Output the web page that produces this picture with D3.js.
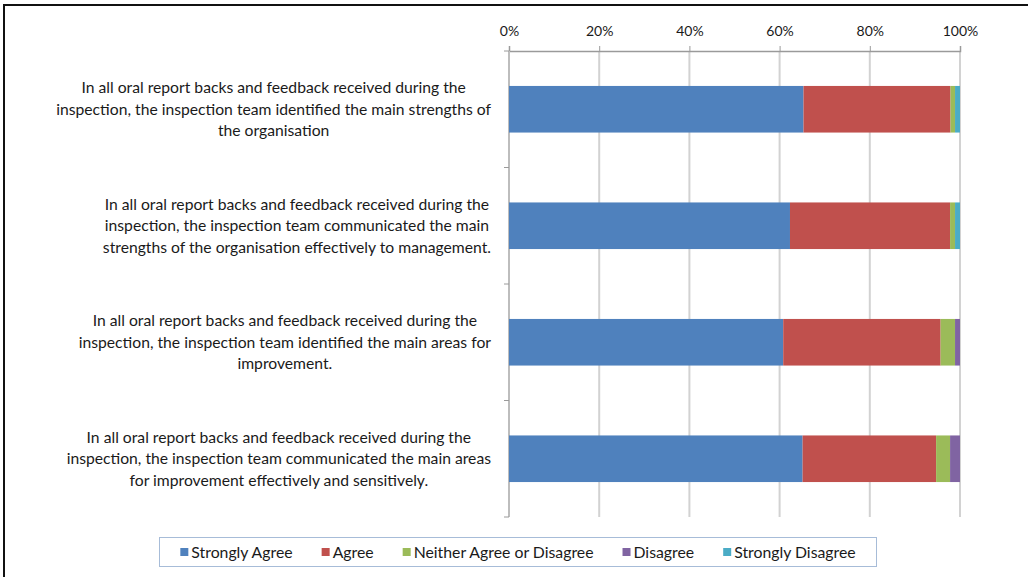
<!DOCTYPE html>
<html>
<head>
<meta charset="utf-8">
<script src="https://cdn.jsdelivr.net/npm/d3@7"></script>
<style>
  body { margin: 0; background: #fff; }
  svg { display: block; }
  text { font-family: Lato, "Open Sans", sans-serif; fill: #1a1a1a; }
</style>
</head>
<body>
<svg id="chart"></svg>
<script>
var width = 1028,
    height = 577;

// survey statements, as wrapped in the original chart
var questions = [
  ["In all oral report backs and feedback received during the",
   "inspection, the inspection team identified the main strengths of",
   "the organisation"],
  ["In all oral report backs and feedback received during the",
   "inspection, the inspection team communicated the main",
   "strengths of the organisation effectively to management."],
  ["In all oral report backs and feedback received during the",
   "inspection, the inspection team identified the main areas for",
   "improvement."],
  ["In all oral report backs and feedback received during the",
   "inspection, the inspection team communicated the main areas",
   "for improvement effectively and sensitively."]
];

var responses = ["Strongly Agree", "Agree", "Neither Agree or Disagree", "Disagree", "Strongly Disagree"];
var colors = ["#4f81bd", "#c0504d", "#9bbb59", "#8064a2", "#4bacc6"];

// percentages per statement
var stronglyAgree    = [65.3, 62.3, 60.8, 65.1];
var agree            = [32.6, 35.5, 34.9, 29.6];
var neither          = [1.0, 1.1, 3.2, 3.1];
var disagree         = [0.0, 0.0, 1.1, 2.2];
var stronglyDisagree = [1.1, 1.1, 0.0, 0.0];

var tickValues = [0, 20, 40, 60, 80, 100];
var tickLabels = ["0%", "20%", "40%", "60%", "80%", "100%"];

var series = [stronglyAgree, agree, neither, disagree, stronglyDisagree];

var rows = questions.map(function(q, i) {
  var r = {index: i};
  responses.forEach(function(name, j) { r[name] = series[j][i]; });
  return r;
});

var stacked = d3.stack().keys(responses)(rows);

var x = d3.scaleLinear().domain([0, 100]).range([509, 960]);
var y = d3.scaleBand()
    .domain(d3.range(questions.length))
    .range([51, 517])
    .paddingInner(0.6)
    .paddingOuter(0.3);

var svg = d3.select("#chart").attr("width", width).attr("height", height);

// outer frame (only left and top edges are in view)
svg.append("path")
    .attr("d", "M4," + (height + 2) + "V5H" + (width + 2))
    .attr("fill", "none")
    .attr("stroke", "#111")
    .attr("stroke-width", 2);

// gridlines
svg.append("g").attr("class", "grid")
  .selectAll("line")
  .data(tickValues.slice(1))
  .enter().append("line")
    .attr("x1", function(d) { return x(d); })
    .attr("x2", function(d) { return x(d); })
    .attr("y1", y.range()[0])
    .attr("y2", y.range()[1])
    .attr("stroke", "#d2d2d2")
    .attr("stroke-width", 2);

// top value axis
var xAxis = d3.axisTop(x)
    .tickValues(tickValues)
    .tickFormat(function(d, i) { return tickLabels[i]; })
    .tickSize(5)
    .tickPadding(10);

var gx = svg.append("g")
    .attr("transform", "translate(0," + y.range()[0] + ")")
    .call(xAxis);
gx.select(".domain").attr("stroke", "#9a9a9a").attr("stroke-width", 1.5);
gx.selectAll(".tick line").attr("stroke", "#9a9a9a");
gx.selectAll(".tick text")
    .style("font-family", "Lato, sans-serif")
    .style("font-size", "14px")
    .attr("fill", "#1a1a1a");

// category axis line with boundary ticks
var bounds = d3.range(questions.length + 1).map(function(i) {
  return y.range()[0] + i * y.step();
});
var gy = svg.append("g");
gy.append("line")
    .attr("x1", x(0)).attr("x2", x(0))
    .attr("y1", y.range()[0]).attr("y2", y.range()[1])
    .attr("stroke", "#bdbdbd").attr("stroke-width", 2);
gy.selectAll("line.tk")
  .data(bounds)
  .enter().append("line")
    .attr("class", "tk")
    .attr("x1", x(0) - 5).attr("x2", x(0))
    .attr("y1", function(d) { return d; })
    .attr("y2", function(d) { return d; })
    .attr("stroke", "#9a9a9a");

// stacked bars
svg.append("g").selectAll("g")
  .data(stacked)
  .enter().append("g")
    .attr("fill", function(d, i) { return colors[i]; })
  .selectAll("rect")
  .data(function(d) { return d; })
  .enter().append("rect")
    .attr("x", function(d) { return x(d[0]); })
    .attr("width", function(d) { return x(d[1]) - x(d[0]); })
    .attr("y", function(d) { return y(d.data.index); })
    .attr("height", y.bandwidth());

// category labels: block right-aligned near the axis, lines centred in it
var lineHeight = 21.5,
    labelRight = x(0) - 18;

var labels = svg.append("g").selectAll("g")
  .data(questions)
  .enter().append("g");

labels.each(function(lines, i) {
  var g = d3.select(this);
  var cy = y(i) + y.bandwidth() / 2;
  var texts = g.selectAll("text")
    .data(lines)
    .enter().append("text")
      .attr("text-anchor", "middle")
      .style("font-size", "15.7px")
      .attr("dy", "0.35em")
      .attr("y", function(d, k) { return cy + (k - (lines.length - 1) / 2) * lineHeight; })
      .text(function(d) { return d; });
  var maxW = d3.max(texts.nodes(), function(n) { return n.getComputedTextLength(); });
  texts.attr("x", labelRight - maxW / 2);
});

// legend
var legend = svg.append("g");
legend.append("rect")
    .attr("x", 159.5).attr("y", 537.5)
    .attr("width", 717).attr("height", 29)
    .attr("fill", "#fff")
    .attr("stroke", "#a7bcd8");

var items = legend.selectAll("g.item")
  .data(responses)
  .enter().append("g").attr("class", "item");

items.append("rect")
    .attr("width", 8).attr("height", 8)
    .attr("y", -4)
    .attr("fill", function(d, i) { return colors[i]; });

items.append("text")
    .attr("x", 11)
    .attr("dy", "0.35em")
    .style("font-size", "15.8px")
    .text(function(d) { return d; });

var gap = 29, offsets = [], total = 0;
items.each(function(d, i) {
  var w = 11 + d3.select(this).select("text").node().getComputedTextLength();
  offsets.push(total);
  total += w + (i < responses.length - 1 ? gap : 0);
});
var startX = 159.5 + (717 - total) / 2;
items.attr("transform", function(d, i) { return "translate(" + (startX + offsets[i]) + ",552)"; });
</script>
</body>
</html>
